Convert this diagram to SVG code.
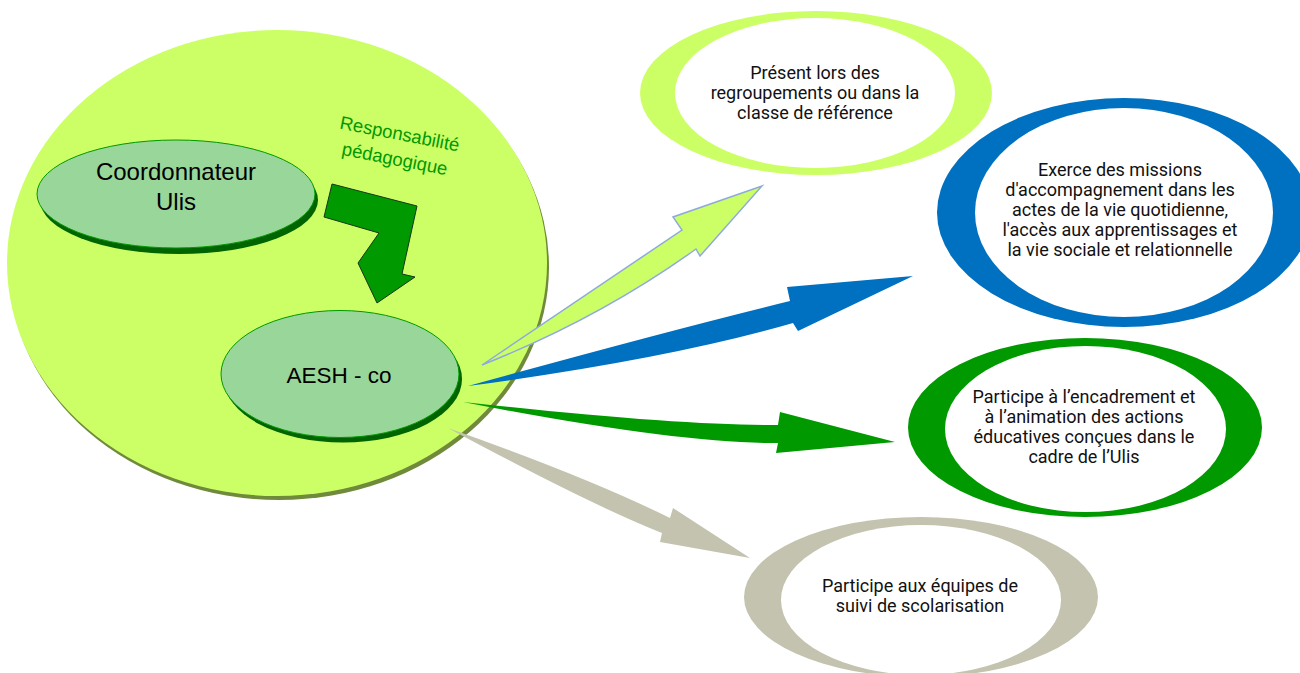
<svg xmlns="http://www.w3.org/2000/svg" width="1300" height="673" viewBox="0 0 1300 673">
<style>
.lt{font-family:"Liberation Sans",Arial,sans-serif;fill:#000;text-anchor:middle}
.rt{font-family:Roboto,"Liberation Sans",sans-serif;font-size:18px;fill:#111;text-anchor:middle}
.inner{fill:#ffffff}
.node{fill:#99d699;stroke:#009900;stroke-width:1}
.nshadow{fill:#006400}
</style>
<rect width="1300" height="673" fill="#ffffff"/>
<g id="cadre">
<ellipse cx="279" cy="267" rx="270" ry="233" fill="#6f8a3a"/>
<ellipse cx="277" cy="263" rx="270" ry="233" fill="#ccff66"/>
</g>
<g id="coordonnateur">
<ellipse cx="179" cy="200" rx="139" ry="54" class="nshadow"/>
<ellipse cx="176" cy="194" rx="139" ry="54" class="node"/>
<text class="lt" font-size="24" x="176" y="180">Coordonnateur</text>
<text class="lt" font-size="24" x="176" y="210">Ulis</text>
</g>
<g id="responsabilite">
<polygon points="332,184 417,206 402,274 415,277 377,303 358,263 379,233 324,217" fill="#009900" stroke="#17361a" stroke-width="1"/>
<g transform="rotate(11 398.5 140)">
<text x="398.5" y="140" font-family="Liberation Sans,Arial,sans-serif" font-size="18.5" fill="#009900" text-anchor="middle">Responsabilité</text>
<text x="398.5" y="165.5" font-family="Liberation Sans,Arial,sans-serif" font-size="18.5" fill="#009900" text-anchor="middle">pédagogique</text>
</g>
</g>
<g id="aesh">
<ellipse cx="343" cy="379" rx="119" ry="63.5" class="nshadow"/>
<ellipse cx="340" cy="374" rx="119" ry="63.5" class="node"/>
<text class="lt" font-size="22.5" x="339" y="383">AESH - co</text>
</g>
<g id="connectors">
<path d="M482,365 L682,230 L673,217 L762,186 L700,256 L696,249 Q600,318 482,365 Z" fill="#ccff66" stroke="#8eaadb" stroke-width="1.5" stroke-linejoin="miter"/>
<path d="M468,386 Q671,330 790,301 L787,287 L913,276 L798,331 L793,323 Q669,359 468,386 Z" fill="#0070c0"/>
<path d="M463,402 Q679,426 778,425 L780,412 L895,442 L776,453 L778,443 Q679,444 463,402 Z" fill="#009900"/>
<path d="M448,428 Q587,477 670,518 L673,508 L750,558 L660,542 L662,533 Q591,505 448,428 Z" fill="#c3c3af"/>
</g>
<g id="present">
<ellipse cx="816" cy="93" rx="176" ry="82" fill="#ccff66"/>
<ellipse cx="815" cy="93" rx="140" ry="75" class="inner"/>
<text class="rt" x="815" y="79">Présent lors des</text>
<text class="rt" x="815" y="99">regroupements ou dans la</text>
<text class="rt" x="815" y="119">classe de référence</text>
</g>
<g id="missions">
<ellipse cx="1124" cy="212.5" rx="187" ry="114.5" fill="#0070c0"/>
<ellipse cx="1124" cy="212.5" rx="149" ry="104.5" class="inner"/>
<text class="rt" x="1120" y="176">Exerce des missions</text>
<text class="rt" x="1120" y="196">d'accompagnement dans les</text>
<text class="rt" x="1120" y="216">actes de la vie quotidienne,</text>
<text class="rt" x="1120" y="236">l'accès aux apprentissages et</text>
<text class="rt" x="1120" y="256">la vie sociale et relationnelle</text>
</g>
<g id="encadrement">
<ellipse cx="1085" cy="427.5" rx="177" ry="89.5" fill="#009900"/>
<ellipse cx="1085.5" cy="429" rx="140.5" ry="83" class="inner"/>
<text class="rt" x="1084" y="403">Participe à l’encadrement et</text>
<text class="rt" x="1084" y="423">à l’animation des actions</text>
<text class="rt" x="1084" y="443">éducatives conçues dans le</text>
<text class="rt" x="1084" y="463">cadre de l’Ulis</text>
</g>
<g id="equipes">
<ellipse cx="921" cy="597" rx="177" ry="80" fill="#c3c3af"/>
<ellipse cx="921" cy="600" rx="140" ry="75" class="inner"/>
<text class="rt" x="920" y="592">Participe aux équipes de</text>
<text class="rt" x="920" y="612">suivi de scolarisation</text>
</g>
</svg>
